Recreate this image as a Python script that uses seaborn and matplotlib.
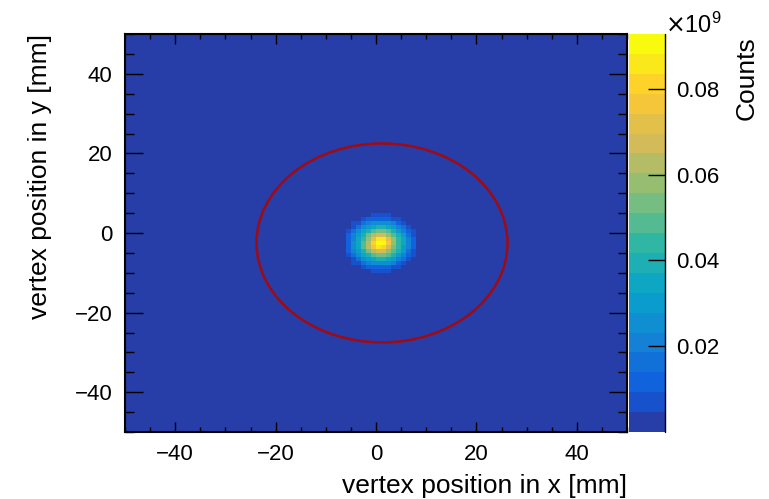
import numpy as np
import pandas as pd
import matplotlib
matplotlib.use('Agg')
import matplotlib.pyplot as plt
from matplotlib.colors import LinearSegmentedColormap, ListedColormap
from matplotlib.patches import Ellipse
from matplotlib.ticker import MultipleLocator
import seaborn as sns

# histogram binning (1 mm bins from -50 to 50 mm)
x_edges = np.arange(-50, 51)
y_edges = np.arange(-50, 51)

# beam spot counts (in units of 1e6), bins x = -7..9 mm, y = 6..-10 mm (top row first)
spot_x0 = -7
spot_y0 = -10
spot_counts = [
    [0.7, 1.0, 1.2, 1.5, 2.1, 2.2, 2.4, 2.5, 2.5, 2.4, 2.2, 1.9, 1.4, 1.2, 0.9, 0.7],
    [1.0, 1.3, 2.2, 2.4, 3.1, 4.1, 5.0, 5.5, 5.4, 4.9, 3.8, 2.9, 2.4, 1.9, 1.4, 1.0],
    [1.4, 2.0, 2.7, 4.2, 6.8, 9.8, 12.5, 13.9, 13.7, 12.1, 9.0, 6.1, 3.8, 2.5, 2.2, 1.3],
    [1.9, 2.7, 4.8, 8.8, 14.5, 20.0, 23.8, 25.9, 25.6, 23.4, 18.9, 13.3, 7.9, 4.3, 2.5, 1.7],
    [2.4, 4.3, 8.9, 16.4, 24.2, 30.8, 35.4, 37.9, 37.5, 34.6, 29.5, 22.8, 14.8, 7.9, 3.7, 2.2],
    [3.2, 6.9, 14.6, 24.1, 33.0, 41.2, 47.9, 51.7, 51.3, 47.0, 39.4, 31.3, 22.3, 12.8, 5.7, 2.8],
    [4.2, 9.8, 19.9, 30.2, 40.7, 51.4, 61.6, 67.5, 66.7, 59.8, 49.3, 38.4, 28.2, 17.7, 8.3, 3.5],
    [4.5, 12.0, 22.5, 33.5, 45.5, 57.0, 72.0, 84.0, 85.0, 74.0, 60.0, 45.5, 32.5, 21.0, 10.3, 4.3],
    [4.5, 13.0, 24.3, 35.7, 48.6, 63.4, 79.6, 90.5, 89.3, 76.6, 60.3, 46.0, 33.4, 22.0, 11.1, 4.5],
    [4.5, 12.5, 24.0, 35.5, 47.5, 63.0, 77.0, 85.0, 80.0, 68.0, 54.0, 42.0, 31.5, 20.5, 10.0, 4.3],
    [4.2, 9.8, 19.9, 30.2, 40.7, 51.4, 61.6, 67.5, 66.7, 59.8, 49.3, 38.4, 28.2, 17.7, 8.3, 3.5],
    [3.2, 6.9, 14.6, 24.1, 33.0, 41.2, 47.9, 51.7, 51.3, 47.0, 39.4, 31.3, 22.3, 12.8, 5.7, 2.8],
    [2.4, 4.3, 8.9, 16.4, 24.2, 30.8, 35.4, 37.9, 37.5, 34.6, 29.5, 22.8, 14.8, 7.9, 3.7, 2.2],
    [1.9, 2.7, 4.8, 8.8, 14.5, 20.0, 23.8, 25.9, 25.6, 23.4, 18.9, 13.3, 7.9, 4.3, 2.5, 1.7],
    [1.4, 2.0, 2.7, 4.2, 6.8, 9.8, 12.5, 13.9, 13.7, 12.1, 9.0, 6.1, 3.8, 2.5, 2.2, 1.3],
    [1.0, 1.3, 2.2, 2.4, 3.1, 4.1, 5.0, 5.5, 5.4, 4.9, 3.8, 2.9, 2.4, 1.9, 1.4, 1.0],
]
z_max = 92.8  # top of colour scale, 1e6 counts

# fiducial circle
circle_x = 1.2
circle_y = -2.5
circle_r = 25.0

cbar_ticks = [20, 40, 60, 80]
cbar_labels = ['0.02', '0.04', '0.06', '0.08']
x_major = [-40, -20, 0, 20, 40]
y_major = [-40, -20, 0, 20, 40]

# build full histogram (row 0 = lowest y)
nx = len(x_edges) - 1
ny = len(y_edges) - 1
hist = np.zeros((ny, nx))
spot = np.array(spot_counts)[::-1]
r0 = spot_y0 - y_edges[0]
c0 = spot_x0 - x_edges[0]
hist[r0:r0 + spot.shape[0], c0:c0 + spot.shape[1]] = spot
df = pd.DataFrame(hist, index=y_edges[:-1], columns=x_edges[:-1])

# ROOT kBird palette, 20 contour levels
bird = LinearSegmentedColormap.from_list('bird', list(zip(
    np.linspace(0, 1, 9),
    zip([0.2082, 0.0592, 0.0780, 0.0232, 0.1802, 0.5301, 0.8186, 0.9956, 0.9764],
        [0.1664, 0.3599, 0.5041, 0.6419, 0.7178, 0.7492, 0.7328, 0.7862, 0.9832],
        [0.5293, 0.8684, 0.8385, 0.7914, 0.6425, 0.4662, 0.3499, 0.1968, 0.0539]))))
ndiv = 20
levels_idx = [int((i + 0.99) * 255 / ndiv) / 254 for i in range(ndiv)]
cmap = ListedColormap([bird(t) for t in levels_idx])

sns.set_style('white')
plt.rcParams['font.family'] = ['Liberation Sans', 'DejaVu Sans']
plt.rcParams['axes.unicode_minus'] = True
for k in ['text.color', 'axes.labelcolor', 'xtick.color', 'ytick.color']:
    plt.rcParams[k] = 'black'

W, H = 769, 499
fig = plt.figure(figsize=(W / 100, H / 100), dpi=100)
ax = fig.add_axes([125 / W, 1 - 432 / H, 502 / W, 398 / H])
cax = fig.add_axes([629 / W, 1 - 432 / H, 36 / W, 398 / H])

sns.heatmap(df, ax=ax, cbar_ax=cax, cmap=cmap, vmin=0, vmax=z_max,
            xticklabels=False, yticklabels=False, linewidths=0)
ax.set_xlim(0, nx)
ax.set_ylim(0, ny)
ax.set_xlabel('')
ax.set_ylabel('')
ax.set_axisbelow(False)
cax.set_axisbelow(False)


def hx(x):
    return x - x_edges[0]


def hy(y):
    return y - y_edges[0]


ax.add_patch(Ellipse((hx(circle_x), hy(circle_y)), 2 * circle_r, 2 * circle_r,
                     fill=False, edgecolor='#a00a12', lw=1.8))

for s in ax.spines.values():
    s.set_visible(True)
    s.set_color('black')
    s.set_linewidth(1.5)
    s.set_zorder(5)

ax.set_xticks([hx(v) for v in x_major])
ax.set_xticklabels([str(v).replace('-', '\u2212') for v in x_major])
ax.set_yticks([hy(v) for v in y_major])
ax.set_yticklabels([str(v).replace('-', '\u2212') for v in y_major])
ax.xaxis.set_minor_locator(MultipleLocator(5))
ax.yaxis.set_minor_locator(MultipleLocator(5))
ax.tick_params(axis='both', which='both', direction='in', top=True, right=True,
               bottom=True, left=True, labelsize=16, width=1, color='black')
ax.tick_params(axis='x', which='major', length=7.2, pad=9, labelrotation=0)
ax.tick_params(axis='x', which='minor', length=3.6)
ax.tick_params(axis='y', which='major', length=13, pad=9)
ax.tick_params(axis='y', which='minor', length=6.5)

# colour bar
cb = ax.collections[0].colorbar
cb.outline.set_visible(False)
cax.plot([1, 1], [0, 1], transform=cax.transAxes, color='black', lw=1,
         clip_on=False, zorder=5)
cax.yaxis.set_ticks_position('right')
cax.set_yticks(cbar_ticks)
cax.set_yticklabels(cbar_labels)
cax.tick_params(axis='y', which='major', direction='in', length=12.5, width=1,
                labelsize=16, pad=8, color='black')
cax.minorticks_off()

fig.text(665 / W, 1 - 33 / H, r'$\times\mathregular{10^{9}}$', fontsize=17,
         ha='left', va='baseline')
fig.text(747 / W, 1 - 36 / H, 'Counts', fontsize=19, rotation=90,
         ha='center', va='top')
fig.text(627 / W, 1 - 486 / H, 'vertex position in x [mm]', fontsize=19,
         ha='right', va='center')
fig.text(40 / W, 1 - 34 / H, 'vertex position in y [mm]', fontsize=19,
         rotation=90, ha='center', va='top')

fig.savefig('out.png', dpi=100, facecolor='white')
